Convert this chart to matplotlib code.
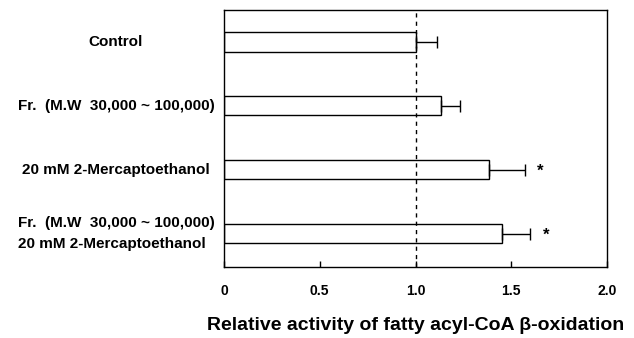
import numpy as np
from matplotlib import pyplot as plt
from matplotlib import transforms

# data
groups = ["Control",
          "Fr.  (M.W  30,000 ~ 100,000)",
          "20 mM 2-Mercaptoethanol",
          "Fr.  (M.W  30,000 ~ 100,000)\n20 mM 2-Mercaptoethanol"]
activity = [1.0, 1.135, 1.385, 1.45]
err = [0.11, 0.095, 0.185, 0.15]
signif = [False, False, True, True]
xticks = [0, 0.5, 1.0, 1.5, 2.0]
xticklabels = ["0", "0.5", "1.0", "1.5", "2.0"]

plt.rcParams['font.family'] = ['Liberation Sans', 'DejaVu Sans']
plt.rcParams['font.weight'] = 'bold'

fig = plt.figure(figsize=(6.34, 3.38), dpi=100)
ax = fig.add_axes([224/634, 71/338, 383/634, 257/338])

y = np.arange(len(groups))
ax.barh(y, activity, height=0.3, color="white", edgecolor="black", linewidth=1.0)
ax.errorbar(activity, y, xerr=[np.zeros(len(err)), err], fmt="none",
            ecolor="black", elinewidth=1.0, capsize=4, capthick=1.0)
for yi, a, e, s in zip(y, activity, err, signif):
    if s:
        ax.text(a + e + 0.08, yi + 0.03, "*", ha="center", va="center", fontsize=12, fontweight="bold")

ax.axvline(1.0, color="black", linestyle=(0, (3, 3)), linewidth=1.0)

ax.set_xlim(0, 2.0)
ax.set_ylim(3.52, -0.5)
ax.set_xticks(xticks)
ax.set_xticklabels(xticklabels, fontsize=10, fontweight="bold")
ax.tick_params(axis="x", direction="in", length=4, width=1, pad=12)
ax.set_yticks([])
for sp in ax.spines.values():
    sp.set_linewidth(1.0)

trans = transforms.blended_transform_factory(fig.transFigure, ax.transData)
for yi, g in zip(y, groups):
    ax.text(116/634, yi, g, transform=trans, ha="center", va="center",
            fontsize=11, fontweight="bold", multialignment="left", linespacing=1.6)

ax.set_xlabel("Relative activity of fatty acyl-CoA \u03b2-oxidation",
              fontsize=14, fontweight="bold", labelpad=14)

fig.savefig("out.png", dpi=100)
